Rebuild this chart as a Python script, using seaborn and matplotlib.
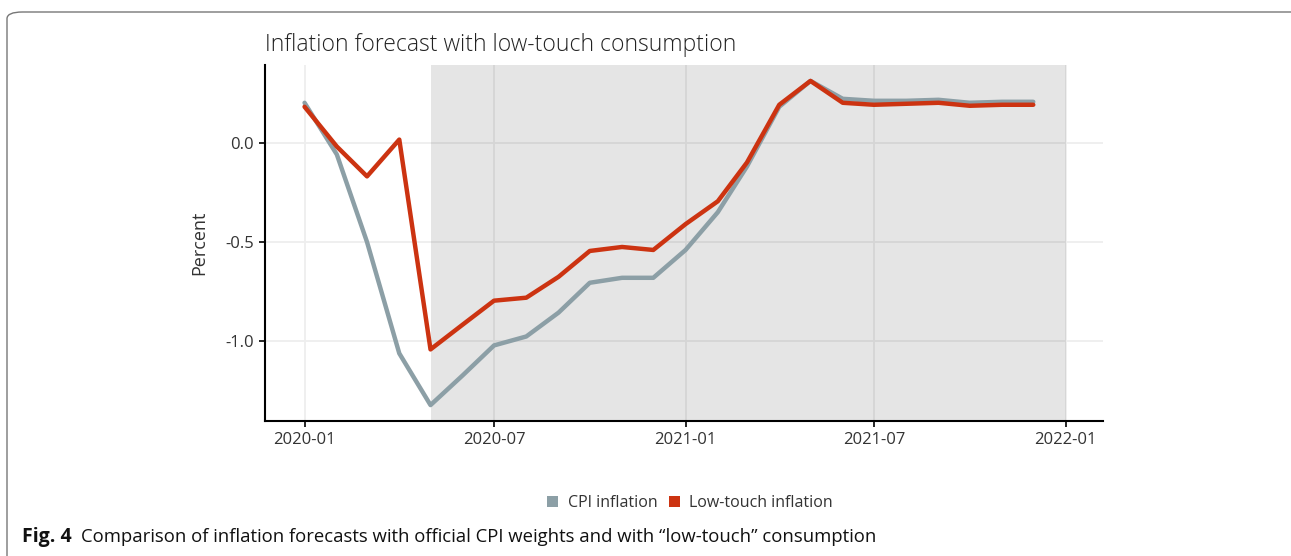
# Inflation forecast with low-touch consumption (Fig. 4)

import matplotlib
matplotlib.use("Agg")
import matplotlib.pyplot as plt
from matplotlib.patches import FancyBboxPatch, Patch
import seaborn as sns
import pandas as pd

# ================================== Data ==================================
months = pd.date_range("2020-01-01", "2021-12-01", freq="MS")
cpi_inflation = [0.20, -0.06, -0.50, -1.06, -1.32, -1.17, -1.02, -0.975,
                 -0.855, -0.705, -0.68, -0.68, -0.54, -0.35, -0.12, 0.18,
                 0.31, 0.22, 0.21, 0.21, 0.215, 0.20, 0.205, 0.205]
low_touch_inflation = [0.18, -0.02, -0.17, 0.015, -1.04, -0.915, -0.795, -0.78,
                       -0.675, -0.545, -0.525, -0.54, -0.41, -0.295, -0.10, 0.19,
                       0.31, 0.20, 0.19, 0.195, 0.20, 0.185, 0.19, 0.19]
series_names = ["CPI inflation", "Low-touch inflation"]
series_colors = ["#8c9fa6", "#cc3311"]
shade_start = pd.Timestamp("2020-05-01")
shade_end = pd.Timestamp("2022-01-01")
x_ticks = pd.to_datetime(["2020-01-01", "2020-07-01", "2021-01-01", "2021-07-01", "2022-01-01"])
x_tick_labels = ["2020-01", "2020-07", "2021-01", "2021-07", "2022-01"]
y_ticks = [0.0, -0.5, -1.0]
y_tick_labels = ["0.0", "-0.5", "-1.0"]

data = pd.DataFrame({"date": list(months) * 2,
                     "value": cpi_inflation + low_touch_inflation,
                     "series": [series_names[0]] * len(months) + [series_names[1]] * len(months)})

# ================================== Plot ==================================
sns.set_style("white")
plt.rcParams["font.family"] = ["Open Sans", "DejaVu Sans"]

fig = plt.figure(figsize=(12.91, 5.56), dpi=100)
ax = fig.add_axes([265 / 1291, 1 - 421 / 556, (1103 - 265) / 1291, (421 - 65) / 556])

# frame around the figure
fig.patches.append(FancyBboxPatch((7 / 1291, -0.05), 1.05, 1 - 12 / 556 + 0.05,
                                  boxstyle="round,pad=0,rounding_size=0.012",
                                  transform=fig.transFigure, facecolor="none",
                                  edgecolor="#777777", linewidth=1.0))

ax.grid(True, color="#eeeeee", linewidth=1.3)
ax.set_axisbelow(True)
ax.axvspan(shade_start, shade_end, color="black", alpha=0.1, linewidth=0, zorder=1.5)

sns.lineplot(data=data, x="date", y="value", hue="series", palette=series_colors,
             hue_order=series_names, linewidth=3.2, legend=False, ax=ax, zorder=3)

ax.set_xlim(pd.Timestamp("2019-12-24") - pd.Timedelta(days=30), pd.Timestamp("2022-02-06"))
ax.set_ylim(-1.40, 0.39)
ax.set_xticks(x_ticks)
ax.set_xticklabels(x_tick_labels)
ax.set_yticks(y_ticks)
ax.set_yticklabels(y_tick_labels)
ax.tick_params(axis="both", colors="#333333", labelsize=12, length=4, width=1.2,
               direction="out", bottom=True, left=True, pad=4)
ax.tick_params(axis="both", color="black")

for side in ["top", "right"]:
    ax.spines[side].set_visible(False)
for side in ["left", "bottom"]:
    ax.spines[side].set_color("black")
    ax.spines[side].set_linewidth(1.5)

ax.set_xlabel("")
ax.set_ylabel("Percent", fontsize=13, color="#333333", labelpad=12)
ax.set_title("Inflation forecast with low-touch consumption", loc="left",
             fontsize=16.5, color="#222222", pad=10, fontweight="light")

handles = [Patch(facecolor=c, edgecolor="none") for c in series_colors]
fig.legend(handles, series_names, loc="center", bbox_to_anchor=(690 / 1291, 1 - 503 / 556),
           ncol=2, frameon=False, fontsize=11.5, handlelength=0.7, handleheight=0.7,
           handletextpad=0.6, columnspacing=0.7, labelcolor="#333333")

fig.text(22 / 1291, 1 - 537 / 556, "Fig. 4", fontsize=14, fontweight="bold",
         va="center", ha="left", color="#111111")
fig.text(81 / 1291, 1 - 537 / 556,
         "Comparison of inflation forecasts with official CPI weights and with \u201clow-touch\u201d consumption",
         fontsize=13.3, va="center", ha="left", color="#111111")

plt.savefig("out.png", dpi=100)
